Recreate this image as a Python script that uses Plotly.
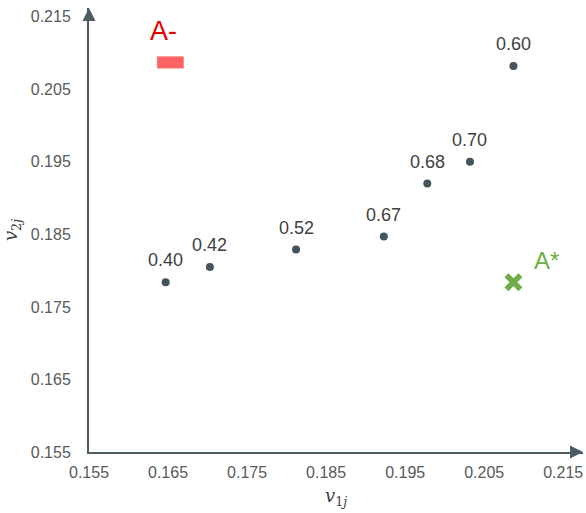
import plotly.graph_objects as go

# data
pt_labels = ["0.40", "0.42", "0.52", "0.67", "0.68", "0.70", "0.60"]
pt_x = [0.1647, 0.1703, 0.1812, 0.1923, 0.1978, 0.2032, 0.2087]
pt_y = [0.1784, 0.1805, 0.1829, 0.1847, 0.1920, 0.1950, 0.2082]

a_star_x = [0.2087]
a_star_y = [0.1784]
a_minus_x = [0.1653]
a_minus_y = [0.2087]

tick_vals = [0.155, 0.165, 0.175, 0.185, 0.195, 0.205, 0.215]
tick_text = ["0.155", "0.165", "0.175", "0.185", "0.195", "0.205", "0.215"]

axis_color = "#4d5b63"
font_main = "Liberation Sans, Arial"
fig = go.Figure()

fig.add_trace(go.Scatter(
    x=pt_x, y=pt_y, mode="markers",
    marker=dict(size=8, color="#44545c"), showlegend=False))

for lx, ly, lt in zip(pt_x, pt_y, pt_labels):
    fig.add_annotation(x=lx, y=ly, text=lt, showarrow=False, yshift=22,
                       font=dict(family=font_main, size=18, color="#404040"))

fig.add_trace(go.Scatter(
    x=a_star_x, y=a_star_y, mode="markers", showlegend=False,
    marker=dict(symbol="x-thin", size=14, color="#70ad47",
                line=dict(width=5.5, color="#70ad47"))))
fig.add_annotation(x=a_star_x[0], y=a_star_y[0], text="A*", showarrow=False,
                   xshift=33, yshift=22,
                   font=dict(family=font_main, size=24, color="#70ad47"))

fig.add_trace(go.Scatter(
    x=a_minus_x, y=a_minus_y, mode="markers", showlegend=False,
    marker=dict(symbol="line-ew", size=19, color="#ff5a5a", opacity=0.95,
                line=dict(width=12, color="#ff5a5a"))))
fig.add_annotation(x=a_minus_x[0], y=a_minus_y[0], text="A-", showarrow=False,
                   xshift=-7, yshift=31,
                   font=dict(family=font_main, size=27, color="#e60000"))

fig.update_layout(
    width=586, height=513, plot_bgcolor="white", paper_bgcolor="white",
    margin=dict(l=89, r=3, t=8, b=61),
    xaxis=dict(range=[0.155, 0.2175], tickvals=tick_vals, ticktext=tick_text,
               showgrid=False, zeroline=False, showline=True, linecolor=axis_color,
               linewidth=2, ticks="", ticklabelstandoff=5,
               tickfont=dict(family=font_main, size=16, color="#595959"),
               title=dict(text="<i>v</i><sub>1<i>j</i></sub>", standoff=9,
                          font=dict(family="DejaVu Serif, serif", size=18, color="#404040"))),
    yaxis=dict(range=[0.155, 0.2162], tickvals=tick_vals, ticktext=tick_text,
               showgrid=False, zeroline=False, showline=True, linecolor=axis_color,
               linewidth=2, ticks="", ticklabelstandoff=13,
               tickfont=dict(family=font_main, size=16, color="#595959"),
               title=dict(text="<i>v</i><sub>2<i>j</i></sub>", standoff=8,
                          font=dict(family="DejaVu Serif, serif", size=18, color="#404040"))),
)

# axis arrowheads
fig.add_annotation(xref="paper", yref="paper", x=1.0, y=0, ax=-12, ay=0,
                   showarrow=True, arrowhead=2, arrowsize=1.3, arrowwidth=2,
                   arrowcolor=axis_color, text="")
fig.add_annotation(xref="paper", yref="paper", x=0, y=1.0, ax=0, ay=12,
                   showarrow=True, arrowhead=2, arrowsize=1.3, arrowwidth=2,
                   arrowcolor=axis_color, text="")

fig.write_html("out.html")
